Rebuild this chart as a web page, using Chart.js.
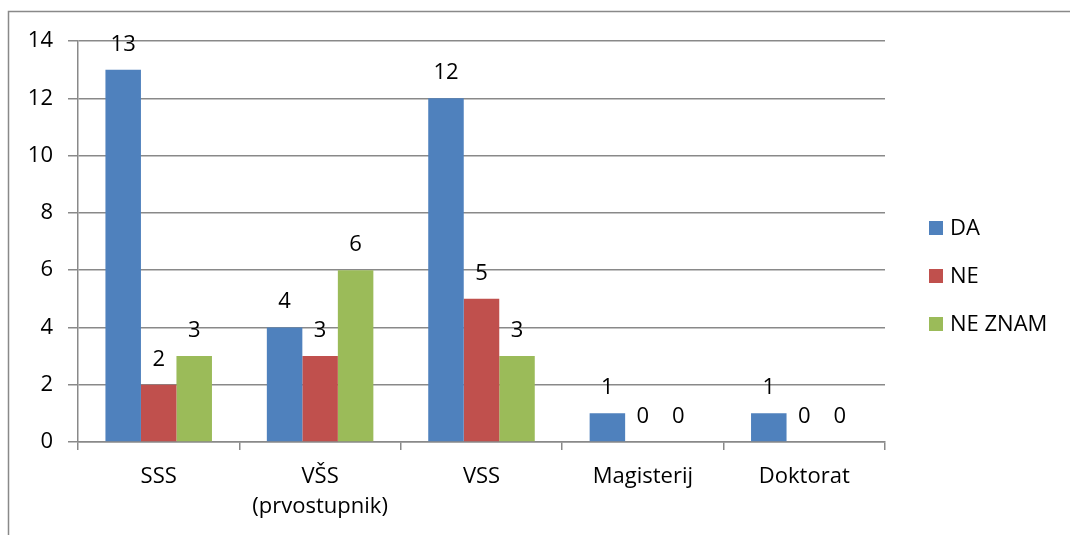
<!DOCTYPE html>
<html>
<head>
<meta charset="utf-8">
<script src="https://cdn.jsdelivr.net/npm/chart.js@4.4.0/dist/chart.umd.min.js"></script>
<style>
  html, body { margin: 0; padding: 0; background: #fff; }
</style>
</head>
<body>
<canvas id="chartBars" width="1070" height="535"></canvas>
<script>
// data
const categories = [['SSS'], ['VŠS', '(prvostupnik)'], ['VSS'], ['Magisterij'], ['Doktorat']];
const seriesNames = ['DA', 'NE', 'NE ZNAM'];
const daValues = [13, 4, 12, 1, 1];
const neValues = [2, 3, 5, 0, 0];
const neZnamValues = [3, 6, 3, 0, 0];
const yTicks = [0, 2, 4, 6, 8, 10, 12, 14];

const colors = ['#4F81BD', '#C0504D', '#9BBB59'];
const gridColor = '#898989';
const font = { family: '"Open Sans", sans-serif', size: 22, lineHeight: 1.35 };

// frame, value labels and the legend on the right
const extras = {
  id: 'extras',
  beforeDraw(chart) {
    const ctx = chart.ctx;
    ctx.save();
    ctx.strokeStyle = gridColor;
    ctx.lineWidth = 1.5;
    ctx.beginPath();
    ctx.moveTo(8.5, 540);
    ctx.lineTo(8.5, 11.5);
    ctx.lineTo(1080, 11.5);
    ctx.stroke();
    ctx.restore();
  },
  afterDatasetsDraw(chart) {
    const ctx = chart.ctx;
    ctx.save();
    ctx.font = font.size + 'px ' + font.family;
    ctx.fillStyle = '#000';
    ctx.textAlign = 'center';
    ctx.textBaseline = 'alphabetic';
    chart.data.datasets.forEach((ds, i) => {
      chart.getDatasetMeta(i).data.forEach((bar, j) => {
        ctx.fillText(String(ds.data[j]), bar.x, bar.y - 19);
      });
    });

    // legend
    ctx.textAlign = 'left';
    ctx.textBaseline = 'middle';
    chart.data.datasets.forEach((ds, i) => {
      const cy = 228 + i * 48;
      ctx.fillStyle = ds.backgroundColor;
      ctx.fillRect(929, cy - 7, 14, 14);
      ctx.fillStyle = '#000';
      ctx.fillText(ds.label, 950, cy + 1);
    });
    ctx.restore();
  }
};

const chartBars = document.getElementById('chartBars').getContext('2d');

let myChart = new Chart(chartBars, {
  type: 'bar',
  data: {
    labels: categories,
    datasets: [
      { label: seriesNames[0], data: daValues, backgroundColor: colors[0] },
      { label: seriesNames[1], data: neValues, backgroundColor: colors[1] },
      { label: seriesNames[2], data: neZnamValues, backgroundColor: colors[2] }
    ]
  },
  options: {
    responsive: false,
    animation: false,
    categoryPercentage: 0.66,
    barPercentage: 1,
    layout: { padding: { top: 41, right: 185, left: 0, bottom: 0 } },
    plugins: {
      legend: { display: false },
      tooltip: { enabled: false }
    },
    scales: {
      x: {
        grid: { drawOnChartArea: false, drawTicks: true, tickLength: 8, color: gridColor, lineWidth: 1.5 },
        border: { display: true, color: gridColor, width: 1.5 },
        ticks: { font: font, color: '#000', padding: 12, maxRotation: 0 },
        afterFit: (scale) => { scale.height = 93; }
      },
      y: {
        min: 0,
        max: 14,
        afterBuildTicks: (scale) => { scale.ticks = yTicks.map(v => ({ value: v })); },
        grid: { color: gridColor, lineWidth: 1.5, tickLength: 10 },
        border: { display: true, color: gridColor, width: 1.5 },
        ticks: { font: font, color: '#000', padding: 15 },
        afterFit: (scale) => { scale.width = 78; }
      }
    }
  },
  plugins: [extras]
});
</script>
</body>
</html>
